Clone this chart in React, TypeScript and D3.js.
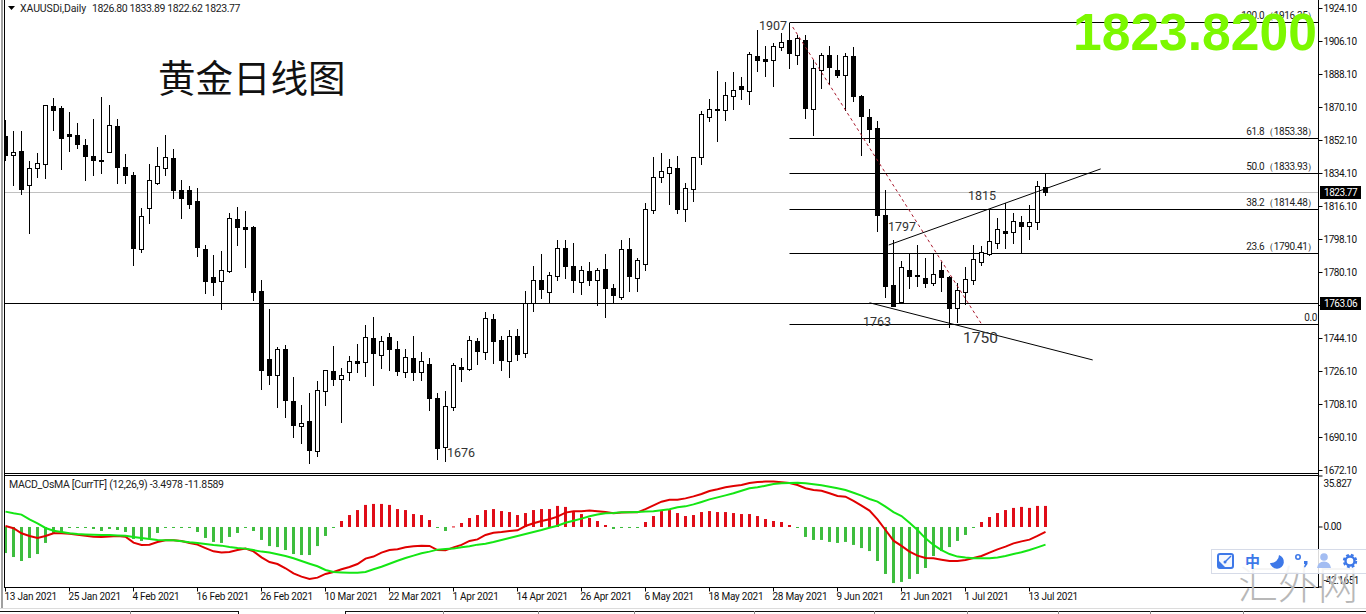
import React, { useEffect, useRef } from 'react';
import * as d3 from 'd3';

const opens = [1854.6, 1844.2, 1846.4, 1827.8, 1837.1, 1839.3, 1870.9, 1869.8, 1855.7, 1855.1, 1849.7, 1843.6, 1841.5, 1845.8, 1860.0, 1837.6, 1833.3, 1792.9, 1815.3, 1828.9, 1837.1, 1842.6, 1825.1, 1825.1, 1819.1, 1792.9, 1777.7, 1775.5, 1780.9, 1809.3, 1804.9, 1804.9, 1770.0, 1733.0, 1724.2, 1738.4, 1710.0, 1696.4, 1699.1, 1682.7, 1715.5, 1726.4, 1722.0, 1725.8, 1731.8, 1731.3, 1744.4, 1735.1, 1744.9, 1738.4, 1725.8, 1733.5, 1725.8, 1730.2, 1711.7, 1684.9, 1706.7, 1728.6, 1727.5, 1742.7, 1736.7, 1754.7, 1743.3, 1731.8, 1745.5, 1736.2, 1763.5, 1776.0, 1769.5, 1778.2, 1793.5, 1783.6, 1774.9, 1780.9, 1776.0, 1782.0, 1771.7, 1766.7, 1792.9, 1777.1, 1784.7, 1814.2, 1832.2, 1834.4, 1837.1, 1814.7, 1825.7, 1843.1, 1864.9, 1869.3, 1868.7, 1876.4, 1881.8, 1879.1, 1898.2, 1896.6, 1896.0, 1903.1, 1906.9, 1898.7, 1906.9, 1869.3, 1890.6, 1898.7, 1890.6, 1887.8, 1898.2, 1876.4, 1864.9, 1858.9, 1811.5, 1773.3, 1764.0, 1781.5, 1778.7, 1777.1, 1774.4, 1781.5, 1777.7, 1760.7, 1769.5, 1776.0, 1785.8, 1790.2, 1796.2, 1802.7, 1802.2, 1807.7, 1805.5, 1807.7, 1826.8];
const highs = [1863.3, 1857.3, 1857.3, 1840.9, 1845.3, 1871.5, 1875.3, 1870.9, 1867.6, 1861.6, 1852.9, 1863.8, 1875.8, 1871.5, 1863.8, 1844.7, 1834.9, 1815.3, 1839.3, 1848.6, 1855.1, 1847.5, 1830.6, 1827.3, 1826.2, 1795.1, 1789.7, 1791.8, 1812.6, 1815.8, 1813.7, 1805.5, 1776.0, 1760.2, 1739.5, 1740.6, 1723.1, 1707.8, 1714.4, 1720.9, 1726.9, 1740.0, 1728.0, 1734.6, 1741.1, 1751.5, 1755.8, 1745.5, 1747.1, 1742.7, 1738.4, 1745.5, 1736.7, 1733.5, 1714.4, 1715.5, 1730.7, 1733.5, 1745.5, 1744.4, 1758.6, 1757.5, 1745.5, 1748.7, 1749.3, 1770.0, 1783.6, 1790.2, 1780.4, 1797.8, 1797.8, 1796.2, 1783.6, 1785.8, 1782.6, 1790.2, 1773.8, 1797.8, 1798.9, 1788.0, 1818.0, 1843.1, 1845.3, 1842.0, 1843.6, 1828.9, 1843.1, 1868.2, 1874.7, 1890.0, 1884.0, 1889.5, 1886.7, 1900.4, 1912.4, 1903.6, 1905.3, 1910.7, 1916.2, 1909.7, 1909.7, 1896.0, 1899.8, 1903.6, 1898.7, 1899.8, 1903.1, 1876.9, 1869.3, 1862.7, 1825.1, 1797.8, 1786.4, 1790.2, 1795.1, 1788.0, 1790.2, 1785.8, 1778.2, 1774.4, 1783.1, 1795.1, 1794.6, 1814.7, 1809.8, 1818.0, 1812.6, 1810.9, 1816.9, 1830.0, 1833.89];
const lows = [1841.5, 1827.8, 1822.9, 1801.6, 1832.2, 1831.7, 1857.8, 1836.6, 1846.4, 1848.0, 1830.6, 1833.3, 1834.4, 1845.8, 1828.9, 1828.9, 1784.2, 1791.3, 1807.1, 1828.4, 1833.3, 1820.7, 1809.8, 1815.3, 1789.1, 1768.9, 1767.8, 1760.2, 1780.4, 1795.1, 1783.1, 1765.1, 1716.6, 1719.3, 1706.7, 1701.3, 1690.4, 1687.1, 1676.2, 1680.0, 1707.8, 1718.7, 1698.6, 1721.5, 1725.8, 1723.7, 1718.7, 1728.0, 1726.9, 1724.2, 1723.1, 1721.5, 1721.5, 1705.1, 1678.4, 1677.3, 1705.1, 1720.9, 1726.9, 1730.2, 1733.0, 1730.7, 1726.9, 1723.1, 1732.4, 1734.0, 1759.1, 1766.2, 1763.5, 1776.0, 1777.1, 1769.5, 1768.4, 1773.3, 1762.4, 1755.8, 1764.0, 1765.7, 1770.0, 1770.0, 1781.5, 1812.6, 1829.5, 1817.5, 1812.6, 1808.2, 1819.1, 1839.3, 1862.7, 1851.8, 1863.3, 1869.3, 1874.7, 1872.0, 1890.0, 1887.3, 1881.8, 1901.5, 1891.7, 1893.8, 1864.4, 1855.1, 1880.7, 1882.9, 1886.7, 1868.7, 1873.6, 1844.2, 1851.3, 1802.7, 1766.7, 1761.8, 1763.5, 1771.7, 1772.7, 1772.2, 1773.3, 1770.0, 1750.4, 1753.1, 1762.9, 1773.8, 1784.2, 1789.7, 1793.5, 1793.5, 1796.2, 1791.3, 1798.4, 1803.8, 1822.62];
const closes = [1844.2, 1845.8, 1825.7, 1837.1, 1839.8, 1871.5, 1868.7, 1853.5, 1854.6, 1850.2, 1843.6, 1841.5, 1840.9, 1860.6, 1837.6, 1833.3, 1793.5, 1810.9, 1830.6, 1838.2, 1843.1, 1825.1, 1820.7, 1817.5, 1794.0, 1775.5, 1774.9, 1781.5, 1809.8, 1804.9, 1803.8, 1769.5, 1726.9, 1724.2, 1738.4, 1710.6, 1696.9, 1698.0, 1683.3, 1716.0, 1726.9, 1722.0, 1724.2, 1731.8, 1730.7, 1744.9, 1736.2, 1742.7, 1738.4, 1726.4, 1734.0, 1725.8, 1731.8, 1711.7, 1684.4, 1707.3, 1729.7, 1727.5, 1743.3, 1737.3, 1755.3, 1742.7, 1732.4, 1745.5, 1735.7, 1763.5, 1776.0, 1771.1, 1778.7, 1793.5, 1783.6, 1776.0, 1781.5, 1776.0, 1781.5, 1771.7, 1767.8, 1792.9, 1778.2, 1786.9, 1814.7, 1832.2, 1835.5, 1837.6, 1814.7, 1826.2, 1843.1, 1866.6, 1869.3, 1868.7, 1876.9, 1879.7, 1880.2, 1899.3, 1896.0, 1895.5, 1903.6, 1905.8, 1899.8, 1908.0, 1869.8, 1891.7, 1898.7, 1892.2, 1887.8, 1898.2, 1876.4, 1865.5, 1858.4, 1811.5, 1772.7, 1761.8, 1783.1, 1778.2, 1778.2, 1774.4, 1779.3, 1777.7, 1760.7, 1770.5, 1776.6, 1787.5, 1791.3, 1797.3, 1803.8, 1801.6, 1808.2, 1805.5, 1807.7, 1827.3, 1823.77];

const macdLine = [0.7, -0.9, -4.4, -6.3, -7.7, -6.3, -4.4, -4.4, -4.7, -5.4, -6.1, -6.8, -7.0, -6.6, -6.3, -6.8, -11.0, -12.6, -12.4, -10.5, -9.4, -9.4, -9.8, -11.2, -12.4, -14.8, -17.1, -18.0, -17.6, -16.2, -15.2, -17.1, -21.3, -24.6, -26.0, -29.0, -32.6, -34.9, -36.5, -35.6, -33.0, -31.6, -29.7, -28.1, -26.0, -22.2, -20.8, -18.0, -16.2, -15.7, -14.3, -13.6, -13.1, -13.3, -16.2, -16.4, -14.3, -12.6, -9.8, -8.7, -5.6, -4.0, -3.5, -2.8, -2.3, 0.7, 2.6, 4.2, 5.4, 7.3, 10.1, 11.0, 11.0, 11.5, 11.0, 10.5, 9.6, 10.1, 10.3, 10.3, 12.6, 15.2, 17.8, 19.2, 19.2, 20.1, 21.5, 23.2, 25.3, 26.5, 27.9, 28.8, 29.5, 30.9, 31.6, 31.9, 31.9, 31.4, 30.9, 29.5, 27.2, 26.0, 25.5, 23.7, 21.8, 21.3, 18.3, 15.0, 11.5, 5.4, -2.1, -9.6, -13.3, -17.3, -20.1, -21.8, -22.0, -23.0, -23.9, -23.9, -23.2, -21.8, -20.4, -18.0, -15.7, -13.8, -11.5, -10.1, -8.9, -6.3, -3.5];
const signalLine = [10.8, 9.6, 8.7, 5.4, 2.6, -0.7, -2.6, -3.5, -4.4, -4.9, -5.2, -5.4, -5.6, -5.6, -5.9, -6.1, -7.0, -7.7, -8.4, -9.1, -9.4, -9.4, -10.1, -10.8, -11.2, -11.9, -12.6, -13.1, -14.1, -14.8, -15.2, -16.2, -17.3, -18.0, -19.2, -20.4, -22.0, -23.9, -25.8, -27.6, -30.2, -31.6, -31.9, -32.1, -32.1, -31.6, -29.7, -27.9, -25.8, -23.7, -21.8, -20.1, -18.5, -17.3, -15.9, -15.5, -15.2, -14.3, -13.6, -12.4, -11.7, -10.5, -9.1, -7.7, -6.3, -4.9, -3.5, -2.1, -0.5, 0.9, 3.0, 4.4, 5.9, 7.5, 8.7, 9.6, 9.8, 10.3, 10.3, 10.5, 10.8, 11.0, 11.7, 12.4, 13.8, 14.5, 15.9, 17.6, 19.4, 20.8, 22.2, 23.7, 25.5, 27.2, 27.9, 29.0, 30.2, 30.7, 30.9, 31.1, 30.7, 30.0, 29.3, 28.3, 27.2, 26.0, 24.1, 22.0, 19.7, 17.8, 14.3, 10.5, 7.7, 3.0, -2.1, -8.0, -12.6, -16.2, -19.0, -20.8, -21.5, -22.0, -22.0, -22.0, -21.5, -20.4, -19.0, -17.8, -16.2, -14.3, -12.4];
const osma = [-18.3, -21.1, -23.9, -21.8, -19.0, -11.2, -4.2, -4.2, -0.7, -0.7, -0.7, -1.4, -2.8, -1.4, -2.1, -3.5, -8.4, -9.8, -7.7, -4.2, -0.7, -0.7, -0.7, -0.7, -3.5, -7.7, -10.5, -11.2, -7.0, -4.2, -0.7, -2.8, -9.1, -13.4, -14.1, -16.2, -19.0, -19.7, -19.7, -13.4, -6.3, -0.4, 4.2, 8.4, 11.9, 15.5, 16.2, 16.2, 15.5, 12.6, 11.9, 9.1, 8.4, 4.9, -0.7, -2.8, 0.4, 2.8, 6.3, 8.4, 11.9, 12.6, 11.2, 10.5, 8.4, 9.8, 11.9, 12.6, 12.6, 14.8, 14.1, 10.5, 9.1, 6.3, 4.2, 1.4, -1.4, -0.7, -0.7, -0.7, 3.5, 7.7, 11.2, 11.9, 9.8, 7.7, 8.4, 10.5, 11.2, 10.5, 10.5, 9.8, 9.1, 9.1, 7.7, 5.6, 4.2, 3.5, 1.4, -0.4, -7.0, -9.1, -9.1, -10.5, -11.2, -10.5, -12.6, -14.8, -16.9, -23.9, -33.0, -39.4, -38.6, -36.5, -33.0, -28.8, -20.4, -16.9, -14.1, -9.8, -5.6, -0.7, 3.5, 7.0, 9.8, 11.9, 13.4, 14.1, 13.4, 14.8, 14.8];

const dateLabels = ['13 Jan 2021', '25 Jan 2021', '4 Feb 2021', '16 Feb 2021', '26 Feb 2021', '10 Mar 2021', '22 Mar 2021', '1 Apr 2021', '14 Apr 2021', '26 Apr 2021', '6 May 2021', '18 May 2021', '28 May 2021', '9 Jun 2021', '21 Jun 2021', '1 Jul 2021', '13 Jul 2021'];
const dateTicks = [0, 8, 16, 24, 32, 40, 48, 56, 64, 72, 80, 88, 96, 104, 112, 120, 128];
const priceTicks = [1924.1, 1906.1, 1888.1, 1870.1, 1852.1, 1834.1, 1816.1, 1798.1, 1780.1, 1762.1, 1744.1, 1726.1, 1708.1, 1690.1, 1672.1];
const macdTicks = [35.827, 0, -42.1651];
const macdTickLabels = ['35.827', '0.00', '-42.1651'];
const fibRatios = ['100.0', '61.8', '50.0', '38.2', '23.6', '0.0'];
const fibPrices = [1916.35, 1853.38, 1833.93, 1814.48, 1790.41, 1751.51];
const tabEdges = [130, 443, 538, 634, 754, 874, 967, 1058, 1150, 1243];

const uiFont = 'Roboto, sans-serif';
const cjkFont = '"Noto Sans CJK SC", sans-serif';

const drawChart = (svgNode: SVGSVGElement) => {
	const svg = d3.select(svgNode);
	svg.selectAll('*').remove();

	const x = d3.scaleLinear().domain([0, 130]).range([5.5, 1045.5]);
	const priceY = d3.scaleLinear().domain([1924.1, 1672.1]).range([8.5, 470.5]);
	const macdY = d3.scaleLinear().domain([35.827, -42.1651]).range([476, 587]);
	const py = (p: number) => Math.round(priceY(p));
	const levelY = (p: number) => Math.floor(priceY(p)) + 0.5;

	svg.append('rect').attr('width', 1366).attr('height', 614).attr('fill', '#fff');

	svg.append('defs').append('clipPath').attr('id', 'plot')
		.append('rect').attr('x', 5).attr('y', 0).attr('width', 1313).attr('height', 587);

	const plot = svg.append('g').attr('clip-path', 'url(#plot)');

	// current bid and support levels
	plot.append('line').attr('x1', 5).attr('x2', 1318).attr('y1', levelY(closes[130])).attr('y2', levelY(closes[130]))
		.attr('stroke', '#c0c0c0');
	plot.append('line').attr('x1', 5).attr('x2', 1318).attr('y1', levelY(1763.06)).attr('y2', levelY(1763.06))
		.attr('stroke', '#000');

	// fibonacci retracement
	fibPrices.forEach((p, k) => {
		plot.append('line').attr('x1', x(98)).attr('x2', 1318).attr('y1', levelY(p)).attr('y2', levelY(p))
			.attr('stroke', '#000');
		plot.append('text').attr('x', 1317).attr('y', levelY(p) - 3.5)
			.attr('text-anchor', 'end').attr('font-family', uiFont).attr('font-size', 10)
			.attr('letter-spacing', -0.4).attr('fill', '#222')
			.text(k === 5 ? fibRatios[k] : `${ fibRatios[k] }（${ p.toFixed(2) }）`);
	});

	// candles
	const candles = plot.append('g');
	opens.forEach((o, i) => {
		const c = closes[i];
		const top = py(Math.max(o, c));
		const bot = py(Math.min(o, c));
		const cx = x(i);
		candles.append('line').attr('x1', cx).attr('x2', cx)
			.attr('y1', py(highs[i])).attr('y2', py(lows[i]) + 1)
			.attr('stroke', '#000');
		if (c >= o) {
			candles.append('rect').attr('x', cx - 2).attr('width', 4)
				.attr('y', top + 0.5).attr('height', bot - top)
				.attr('fill', '#fff').attr('stroke', '#000');
		} else {
			candles.append('rect').attr('x', cx - 2.5).attr('width', 5)
				.attr('y', top).attr('height', Math.max(bot - top, 1) + 1)
				.attr('fill', '#000');
		}
	});

	// trend lines
	const segment = (i0: number, p0: number, i1: number, p1: number) => plot.append('line')
		.attr('x1', x(i0)).attr('y1', priceY(p0)).attr('x2', x(i1)).attr('y2', priceY(p1))
		.attr('stroke', '#000');
	segment(110.4, 1795.1, 136.9, 1836.6);
	segment(108, 1763.6, 135.9, 1732.4);
	segment(98.4, 1914, 122, 1752).attr('stroke', '#a8182c').attr('stroke-dasharray', '3 3');

	// price labels written on the chart
	const note = (label: string, left: number, base: number, size = 12.5) => svg.append('text')
		.attr('x', left).attr('y', base).attr('font-family', uiFont).attr('font-size', size)
		.attr('fill', '#333').text(label);
	note('1907', 759, 30);
	note('1676', 447, 457);
	note('1797', 888, 231);
	note('1815', 968, 200);
	note('1763', 863, 326);
	note('1750', 963, 343, 15.5);

	svg.append('text').attr('x', 158).attr('y', 92).attr('font-family', cjkFont).attr('font-size', 37.5)
		.attr('fill', '#111').text('黄金日线图');

	// macd panel
	const panel = plot.append('g');
	osma.forEach((v, i) => {
		const y0 = macdY(0);
		const yv = macdY(v);
		panel.append('rect').attr('x', x(i) - 1.5).attr('width', 3)
			.attr('y', Math.min(y0, yv)).attr('height', Math.max(Math.abs(yv - y0), 1))
			.attr('fill', v >= 0 ? '#e00c18' : '#3ebd3e');
	});
	const macdPath = d3.line<number>().x((_, i) => x(i)).y((d) => macdY(d)).curve(d3.curveLinear);
	panel.append('path').attr('d', macdPath(macdLine)).attr('fill', 'none').attr('stroke', '#e00000').attr('stroke-width', 2);
	panel.append('path').attr('d', macdPath(signalLine)).attr('fill', 'none').attr('stroke', '#14e614').attr('stroke-width', 2);

	// axes
	const styleAxis = (g: d3.Selection<SVGGElement, unknown, null, undefined>) => {
		g.select('.domain').remove();
		g.selectAll('text').attr('font-family', uiFont).attr('font-size', 10).attr('letter-spacing', -0.45).attr('fill', '#111');
		g.selectAll('line').attr('stroke', '#000');
	};
	svg.append('g').attr('transform', 'translate(1318.5,0)')
		.call(d3.axisRight(priceY).tickValues(priceTicks).tickFormat(d3.format('.2f')).tickSize(4).tickPadding(1).offset(0))
		.call(styleAxis);
	const macdAxis = svg.append('g').attr('transform', 'translate(1318.5,0)')
		.call(d3.axisRight(macdY).tickValues(macdTicks).tickFormat((_, k) => macdTickLabels[k]).tickSize(4).tickPadding(1).offset(0))
		.call(styleAxis);
	macdAxis.selectAll('text').attr('dy', (_, k) => [10.5, 3.5, -3.5][k]);
	const timeAxis = svg.append('g').attr('transform', 'translate(0,587.5)')
		.call(d3.axisBottom(x).tickValues(dateTicks).tickFormat((_, k) => dateLabels[k]).tickSize(4).tickPadding(1).offset(0))
		.call(styleAxis);
	timeAxis.selectAll('text').attr('text-anchor', 'start').attr('x', -1).attr('letter-spacing', -0.25);

	// panel frame
	const frame = svg.append('g').attr('stroke', '#000');
	frame.append('line').attr('x1', 4.5).attr('x2', 4.5).attr('y1', 0).attr('y2', 587);
	frame.append('line').attr('x1', 1318.5).attr('x2', 1318.5).attr('y1', 0).attr('y2', 587);
	[473.5, 475.5, 587.5].forEach((y) => {
		frame.append('line').attr('x1', 4).attr('x2', 1319).attr('y1', y).attr('y2', y);
	});
	svg.append('rect').attr('x', 1).attr('y', 0).attr('width', 2).attr('height', 608).attr('fill', '#a0a0a0');
	svg.append('line').attr('x1', 0).attr('x2', 1366).attr('y1', 608.5).attr('y2', 608.5).attr('stroke', '#dcdcdc');

	// tab strip
	const tabs = svg.append('g').attr('stroke', '#111');
	tabs.append('line').attr('x1', 0).attr('x2', 238.5).attr('y1', 611.5).attr('y2', 611.5);
	tabs.append('line').attr('x1', 345.5).attr('x2', 1366).attr('y1', 611.5).attr('y2', 611.5);
	[238, 345].forEach((t) => {
		tabs.append('line').attr('x1', t + 0.5).attr('x2', t + 0.5).attr('y1', 611).attr('y2', 614);
	});
	tabEdges.forEach((t) => {
		tabs.append('line').attr('x1', t + 0.5).attr('x2', t + 0.5).attr('y1', 611).attr('y2', 614).attr('stroke', '#888');
	});

	// last price and level badges
	[closes[130], 1763.06].forEach((p) => {
		const yc = Math.floor(priceY(p));
		svg.append('rect').attr('x', 1320).attr('y', yc - 6).attr('width', 41).attr('height', 13).attr('fill', '#000');
		svg.append('text').attr('x', 1324).attr('y', yc + 4).attr('font-family', uiFont).attr('font-size', 10)
			.attr('letter-spacing', -0.45).attr('fill', '#fff').text(p.toFixed(2));
	});

	// chart header lines
	const header = (label: string, left: number, base: number, spacing: number) => svg.append('text')
		.attr('x', left).attr('y', base).attr('font-family', uiFont).attr('font-size', 10.5)
		.attr('letter-spacing', spacing).attr('fill', '#222').text(label);
	svg.append('path').attr('d', 'M8 6h7l-3.5 4z').attr('fill', '#000');
	header('XAUUSDi,Daily', 20, 12, -0.1);
	header(`${ opens[130].toFixed(2) } ${ highs[130].toFixed(2) } ${ lows[130].toFixed(2) } ${ closes[130].toFixed(2) }`, 92, 12, -0.4);
	header('MACD_OsMA [CurrTF] (12,26,9) -3.4978 -11.8589', 9, 488, -0.3);

	// live price stamp
	svg.append('text').attr('x', 1073).attr('y', 50).attr('font-family', '"Liberation Sans", Arial, sans-serif')
		.attr('font-weight', 700).attr('font-size', 51.6).attr('fill', '#7cf800').text('1823.8200');

	// site widget and watermark
	svg.append('text').attr('x', 1238).attr('y', 599).attr('font-family', cjkFont).attr('font-weight', 300)
		.attr('font-size', 40).attr('fill', '#b8b8b8').text('汇外网');
	const widget = svg.append('g');
	const blue = '#3d78e8';
	widget.append('rect').attr('x', 1211.5).attr('y', 549.5).attr('width', 155).attr('height', 24)
		.attr('fill', '#fff').attr('fill-opacity', 0.85).attr('stroke', '#d6dbe8');
	widget.append('rect').attr('x', 1218).attr('y', 554).attr('width', 15).attr('height', 14).attr('rx', 2)
		.attr('fill', '#f4f7fe').attr('stroke', blue).attr('stroke-width', 2);
	widget.append('path').attr('d', 'M1218 560l8 8h-8z').attr('fill', blue);
	widget.append('path').attr('d', 'M1225 562l6 -6').attr('stroke', blue).attr('stroke-width', 1.5);
	widget.append('circle').attr('cx', 1225).attr('cy', 562).attr('r', 1.5).attr('fill', blue);
	widget.append('text').attr('x', 1245).attr('y', 567).attr('font-family', cjkFont).attr('font-weight', 700)
		.attr('font-size', 15).attr('fill', blue).text('中');
	widget.append('path').attr('d', 'M1279 555A7 7 0 1 1 1270 563A8 8 0 0 0 1279 555z').attr('fill', blue);
	widget.append('circle').attr('cx', 1298).attr('cy', 557).attr('r', 2.2).attr('fill', 'none').attr('stroke', blue).attr('stroke-width', 1.6);
	widget.append('path').attr('d', 'M1304 561h3.5v3l-2.5 3.5 -1 -.5 1 -3h-1z').attr('fill', blue);
	widget.append('circle').attr('cx', 1324).attr('cy', 557).attr('r', 3.8).attr('fill', '#a3bdf2');
	widget.append('path').attr('d', 'M1317 568q1 -6.5 7 -6.5t7 6.5z').attr('fill', '#a3bdf2');
	widget.append('circle').attr('cx', 1350).attr('cy', 561).attr('r', 4.5).attr('fill', 'none').attr('stroke', blue).attr('stroke-width', 2.4);
	widget.append('circle').attr('cx', 1350).attr('cy', 561).attr('r', 6.2).attr('fill', 'none').attr('stroke', blue)
		.attr('stroke-width', 2).attr('stroke-dasharray', '2.8 2.1');
};

const App = () => {
	const ref = useRef<SVGSVGElement>(null);

	useEffect(() => {
		if (ref.current) drawChart(ref.current);
	}, []);

	return (
		<svg ref={ ref } width={ 1366 } height={ 614 }
			style={ { position: 'absolute', left: 0, top: 0, display: 'block' } }/>
	);
};

export default App;
